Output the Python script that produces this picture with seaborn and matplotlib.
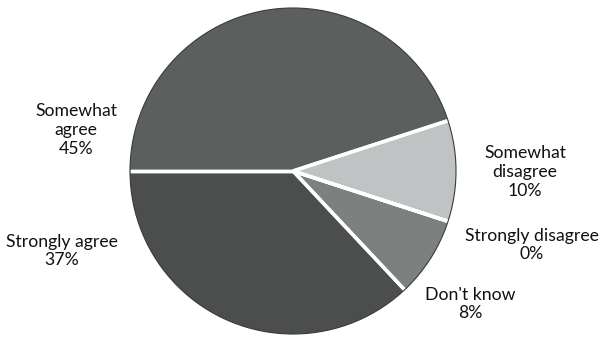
import matplotlib
matplotlib.use("Agg")
import numpy as np
import matplotlib.pyplot as plt
import seaborn as sns

sns.set_theme(style="white")
plt.rcParams["font.family"] = ["Lato", "DejaVu Sans"]

# Survey responses, drawn clockwise from the 9 o'clock position
categories = ["Somewhat\nagree", "Somewhat\ndisagree", "Strongly disagree", "Don't know", "Strongly agree"]
shares = [45, 10, 0, 8, 37]
colors = ["#5b5f5d", "#c0c3c3", "#a0a3a3", "#7c807f", "#4b4e4d"]

# Label anchor points (pixels of the 602x337 canvas) for each category
label_px = [(76, 130), (525, 172), (532, 245), (470, 304), (62, 251)]

W, H = 602, 337
cx, cy, r = 293, 171, 163

fig = plt.figure(figsize=(W / 100, H / 100), dpi=100)
ax = fig.add_axes([0, 0, 1, 1])

wedges, _ = ax.pie(
    shares,
    colors=colors,
    startangle=180,
    counterclock=False,
    radius=1.0,
    wedgeprops=dict(edgecolor="none", linewidth=0),
)

# white separators along each wedge boundary
for w in wedges:
    for ang in (w.theta1, w.theta2):
        t = np.deg2rad(ang)
        ax.plot([0, np.cos(t)], [0, np.sin(t)], color="white", lw=2.5,
                solid_capstyle="butt", zorder=3)

# thin dark rim around the whole pie
rim = plt.Circle((0, 0), 1.0, fill=False, edgecolor="#3a3a3a", linewidth=0.8, zorder=4)
ax.add_patch(rim)

ax.set_xlim(-cx / r, (W - cx) / r)
ax.set_ylim((cy - H) / r, cy / r)
ax.set_aspect("equal")
ax.axis("off")

for name, val, (px, py) in zip(categories, shares, label_px):
    ax.text(
        (px - cx) / r,
        (cy - py) / r,
        f"{name}\n{val}%",
        ha="center",
        va="center",
        fontsize=12.7,
        color="#111111",
        linespacing=1.2,
    )

fig.savefig("out.png", dpi=100, facecolor="white")
